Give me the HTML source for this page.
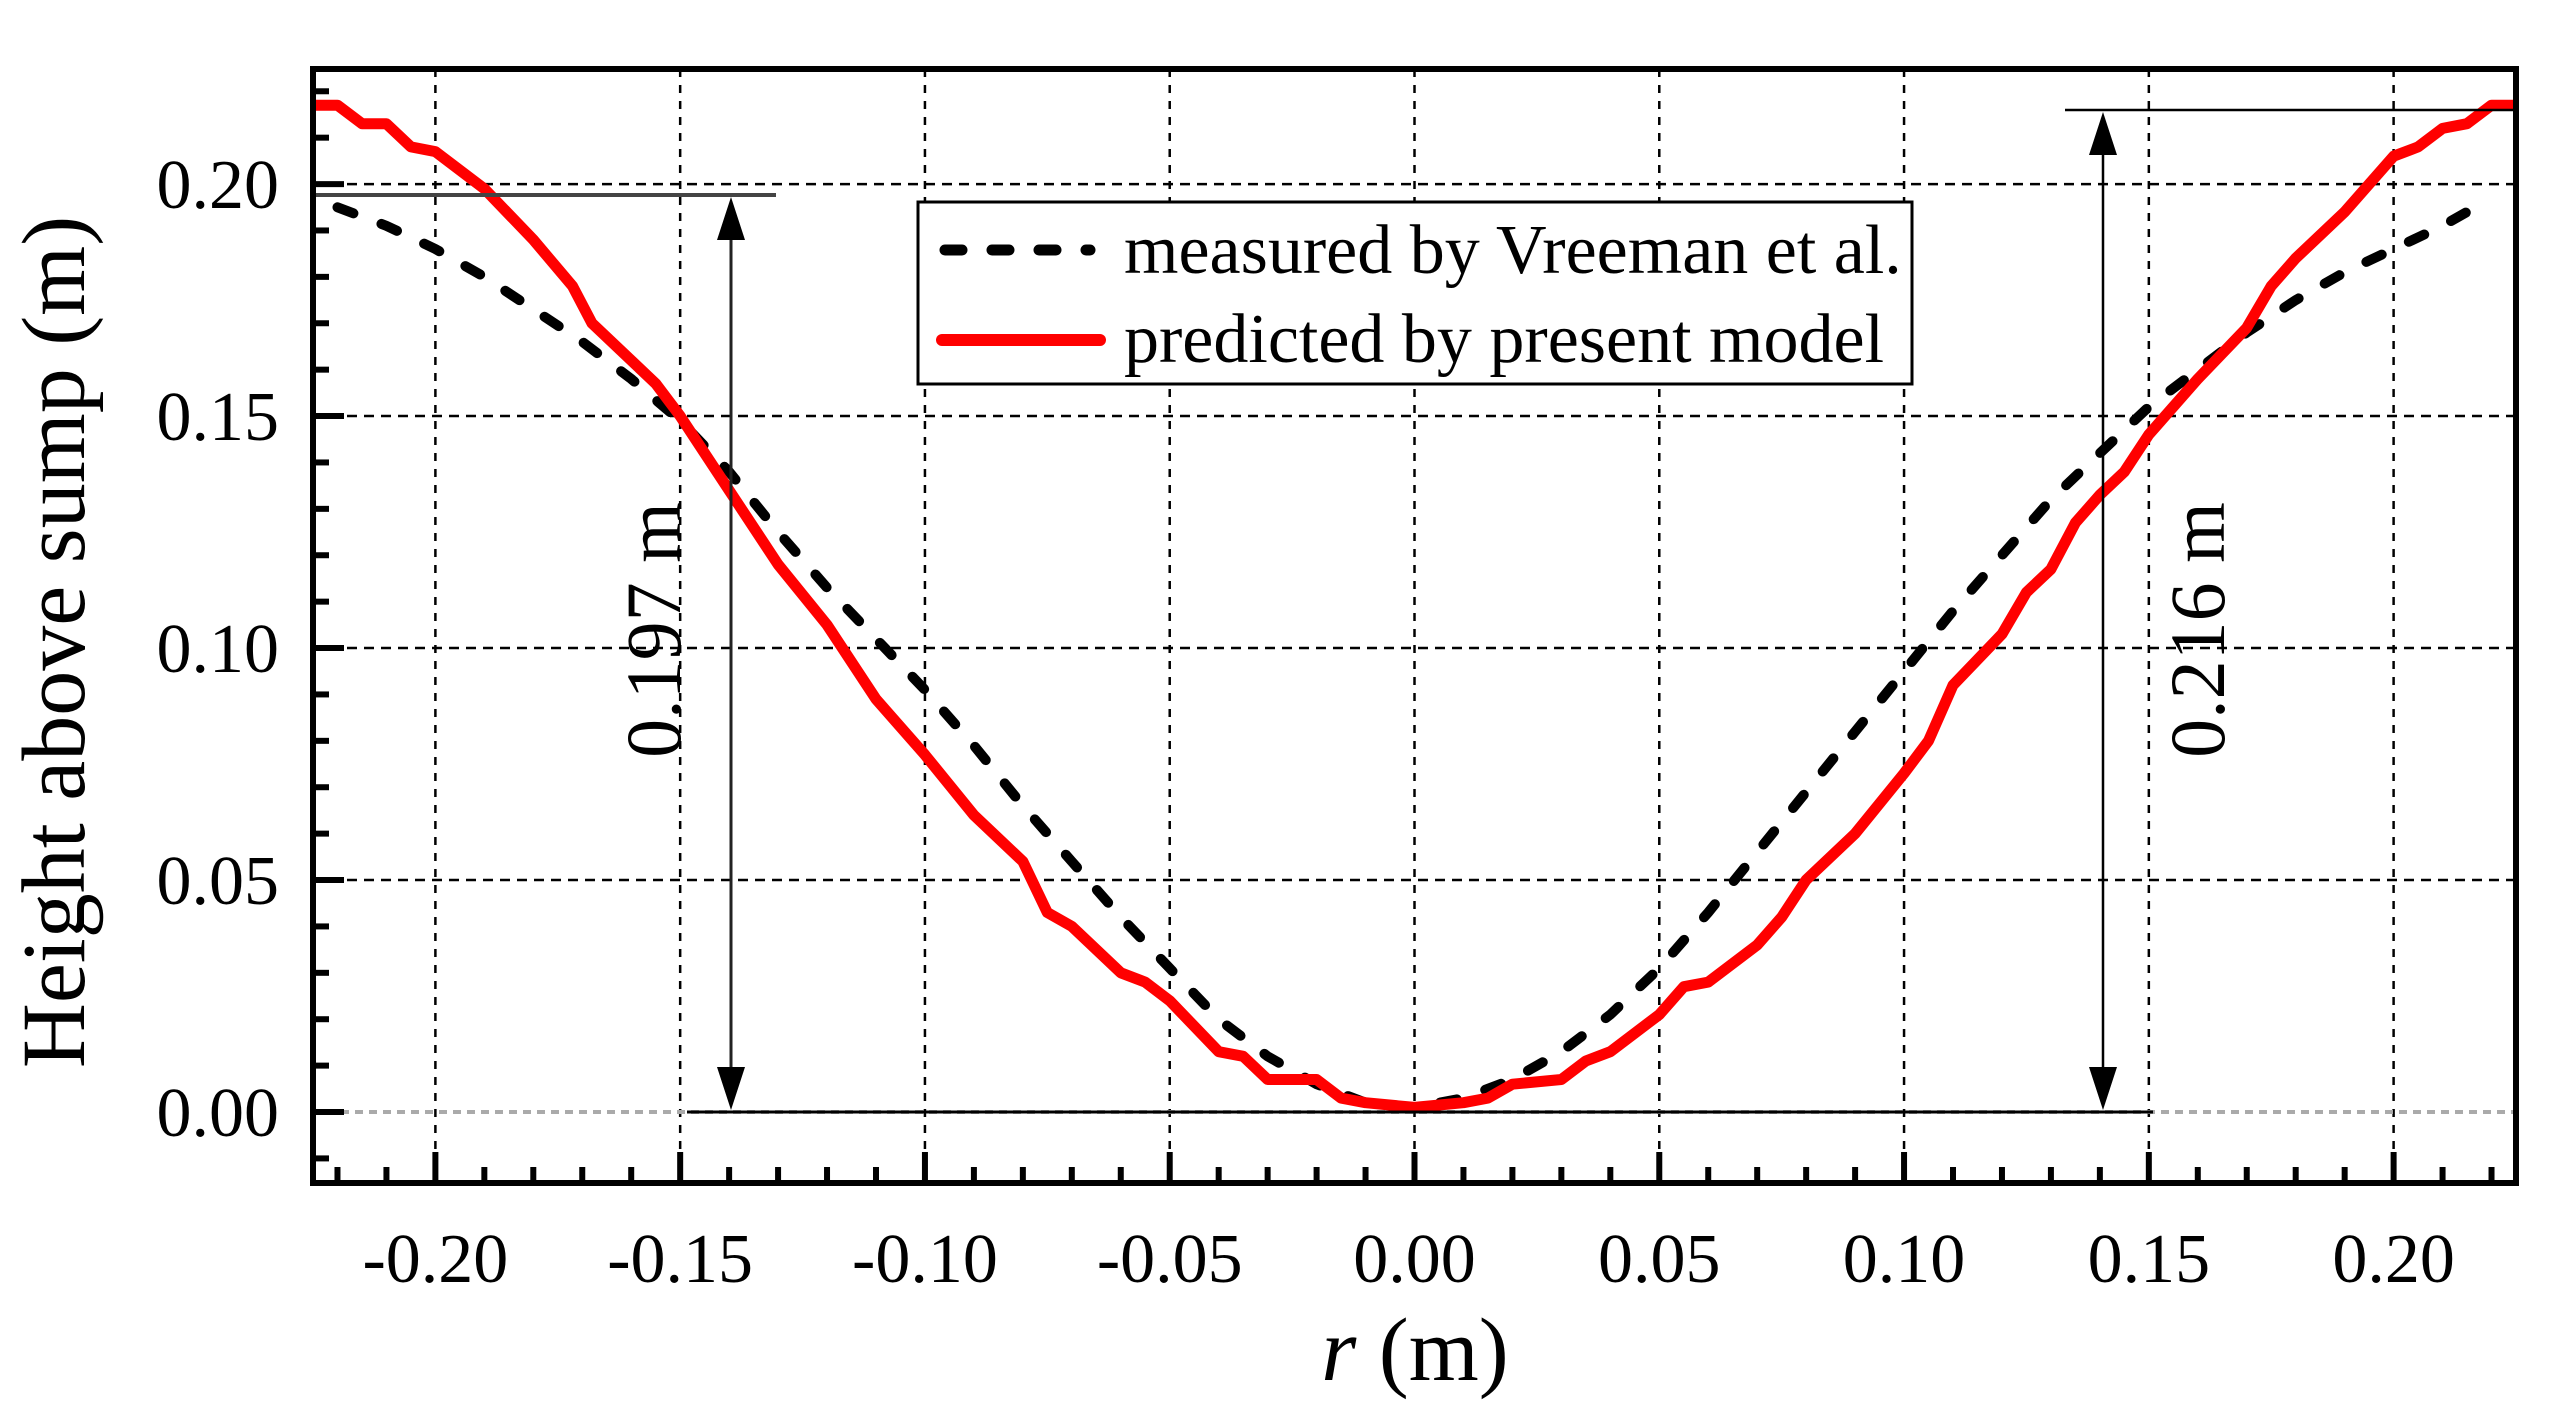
<!DOCTYPE html>
<html><head><meta charset="utf-8"><style>
html,body{margin:0;padding:0;background:#fff;}
svg{display:block;font-family:"Liberation Serif",serif;}
</style></head><body>
<svg id="chart" width="2553" height="1410" viewBox="0 0 2553 1410">
<g id="grid"></g>
<g id="series"></g>
<g id="annot">
  <line x1="313" y1="195" x2="776" y2="195" stroke="#444" stroke-width="4"/>
  <line x1="687" y1="1112" x2="2153" y2="1112" stroke="#000" stroke-width="3"/>
  <line x1="2065" y1="110" x2="2516" y2="110" stroke="#000" stroke-width="2.5"/>
  <line x1="731" y1="240" x2="731" y2="1070" stroke="#222" stroke-width="3"/>
  <polygon points="731,197 717,240 745,240" fill="#000"/>
  <polygon points="731,1110 717,1067 745,1067" fill="#000"/>
  <line x1="2103" y1="150" x2="2103" y2="1070" stroke="#000" stroke-width="2.5"/>
  <polygon points="2103,112 2089,155 2117,155" fill="#000"/>
  <polygon points="2103,1110 2089,1067 2117,1067" fill="#000"/>
  <text x="0" y="0" transform="translate(680,630) rotate(-90)" font-size="78" text-anchor="middle">0.197 m</text>
  <text x="0" y="0" transform="translate(2224,630) rotate(-90)" font-size="78" text-anchor="middle">0.216 m</text>
</g>
<g id="axes"></g>
<g>
  <rect x="918" y="202" width="994" height="182" fill="#fff" stroke="#000" stroke-width="3"/>
  <line x1="945" y1="250" x2="1090" y2="250" stroke="#000" stroke-width="11" stroke-dasharray="17 30" stroke-linecap="round"/>
  <text x="1124" y="273" font-size="70">measured by Vreeman et al.</text>
  <line x1="942" y1="340" x2="1100" y2="340" stroke="#f00" stroke-width="12" stroke-linecap="round"/>
  <text x="1124" y="362" font-size="70">predicted by present model</text>
</g>
<text transform="translate(84,642) rotate(-90)" font-size="90" text-anchor="middle">Height above sump (m)</text>
<text x="1415" y="1380" font-size="90" text-anchor="middle"><tspan font-style="italic">r</tspan> (m)</text>
</svg>
<script>
const xTicks = [-0.20,-0.15,-0.10,-0.05,0.00,0.05,0.10,0.15,0.20];
const xTickLabels = ["-0.20","-0.15","-0.10","-0.05","0.00","0.05","0.10","0.15","0.20"];
const yTicks = [0.00,0.05,0.10,0.15,0.20];
const yTickLabels = ["0.00","0.05","0.10","0.15","0.20"];
const measuredR = [-0.22,-0.21,-0.20,-0.19,-0.18,-0.17,-0.16,-0.15,-0.14,-0.13,-0.12,-0.11,-0.10,-0.09,-0.08,-0.07,-0.06,-0.05,-0.04,-0.03,-0.02,-0.01,0.00,0.01,0.02,0.03,0.04,0.05,0.06,0.07,0.08,0.09,0.10,0.11,0.12,0.13,0.14,0.15,0.16,0.17,0.18,0.19,0.20,0.21,0.22];
const measuredH = [0.195,0.191,0.186,0.180,0.173,0.166,0.158,0.149,0.138,0.125,0.113,0.102,0.091,0.079,0.066,0.054,0.042,0.031,0.020,0.012,0.006,0.002,0.001,0.003,0.007,0.013,0.021,0.031,0.043,0.056,0.069,0.082,0.095,0.108,0.120,0.132,0.142,0.152,0.160,0.168,0.175,0.181,0.186,0.191,0.197];
const predictedR = [-0.225,-0.22,-0.215,-0.21,-0.205,-0.20,-0.19,-0.18,-0.172,-0.168,-0.16,-0.155,-0.15,-0.14,-0.13,-0.12,-0.11,-0.10,-0.09,-0.08,-0.075,-0.07,-0.06,-0.055,-0.05,-0.04,-0.035,-0.03,-0.02,-0.015,-0.01,0.00,0.01,0.015,0.02,0.03,0.035,0.04,0.05,0.055,0.06,0.07,0.075,0.08,0.09,0.10,0.105,0.11,0.12,0.125,0.13,0.135,0.14,0.145,0.15,0.16,0.17,0.175,0.18,0.19,0.20,0.205,0.21,0.215,0.22,0.225];
const predictedH = [0.217,0.217,0.213,0.213,0.208,0.207,0.199,0.188,0.178,0.170,0.162,0.157,0.150,0.134,0.118,0.105,0.089,0.077,0.064,0.054,0.043,0.040,0.030,0.028,0.024,0.013,0.012,0.007,0.007,0.003,0.002,0.001,0.002,0.003,0.006,0.007,0.011,0.013,0.021,0.027,0.028,0.036,0.042,0.050,0.060,0.073,0.080,0.092,0.103,0.112,0.117,0.127,0.133,0.138,0.146,0.158,0.169,0.178,0.184,0.194,0.206,0.208,0.212,0.213,0.217,0.217];

const NS = "http://www.w3.org/2000/svg";
const L = 313, R = 2516, T = 69, B = 1183;
const xMin = -0.225, xMax = 0.225, yMin = -0.0153, yMax = 0.2248;
function sx(v){ return L + (v - xMin) / (xMax - xMin) * (R - L); }
function sy(v){ return B - (v - yMin) / (yMax - yMin) * (B - T); }
function mk(tag, attrs, parent){ const e = document.createElementNS(NS, tag); for (const k in attrs) e.setAttribute(k, attrs[k]); parent.appendChild(e); return e; }

const grid = document.getElementById('grid');
const axes = document.getElementById('axes');
const series = document.getElementById('series');

xTicks.forEach((v) => {
  const g = mk('line', {x1: sx(v), x2: sx(v), y1: T, y2: B, stroke: '#000', 'stroke-width': 2.5, 'stroke-dasharray': '8 8'}, grid);
  
  
});
yTicks.forEach((v) => {
  const isZero = v === 0;
  const g = mk('line', {x1: L, x2: R, y1: sy(v), y2: sy(v), stroke: isZero ? '#aaa' : '#000', 'stroke-width': isZero ? 4 : 2.5, 'stroke-dasharray': isZero ? '8 6' : '10 7'}, grid);
  
  
});

function pathFrom(xs, ys){ return xs.map((x, i) => (i ? 'L' : 'M') + sx(x).toFixed(1) + ',' + sy(ys[i]).toFixed(1)).join(' '); }
const mLine = mk('path', {d: pathFrom(measuredR, measuredH), fill: 'none', stroke: '#000', 'stroke-width': 10, 'stroke-dasharray': '17 30', 'stroke-linecap': 'round'}, series);


const pLine = mk('path', {d: pathFrom(predictedR, predictedH), fill: 'none', stroke: '#f00', 'stroke-width': 11, 'stroke-linejoin': 'round'}, series);



for (let i = -22; i <= 22; i++) {
  const v = i / 100, major = i % 5 === 0;
  const t = mk('line', {x1: sx(v), x2: sx(v), y1: B, y2: B - (major ? 31 : 16), stroke: '#000', 'stroke-width': 6}, axes);
  
  
}
for (let i = -1; i <= 22; i++) {
  const v = i / 100, major = i % 5 === 0;
  const t = mk('line', {x1: L, x2: L + (major ? 31 : 16), y1: sy(v), y2: sy(v), stroke: '#000', 'stroke-width': 6}, axes);
  
  
}
const frame = mk('rect', {x: L, y: T, width: R - L, height: B - T, fill: 'none', stroke: '#000', 'stroke-width': 6}, axes);



xTicks.forEach((v, i) => {
  const t = mk('text', {x: sx(v), y: 1282, 'font-size': 70, 'text-anchor': 'middle'}, axes);
  t.textContent = xTickLabels[i];
  
  
});
yTicks.forEach((v, i) => {
  const t = mk('text', {x: 279, y: sy(v) + 24, 'font-size': 70, 'text-anchor': 'end'}, axes);
  t.textContent = yTickLabels[i];
  
  
});
</script>
</body></html>
